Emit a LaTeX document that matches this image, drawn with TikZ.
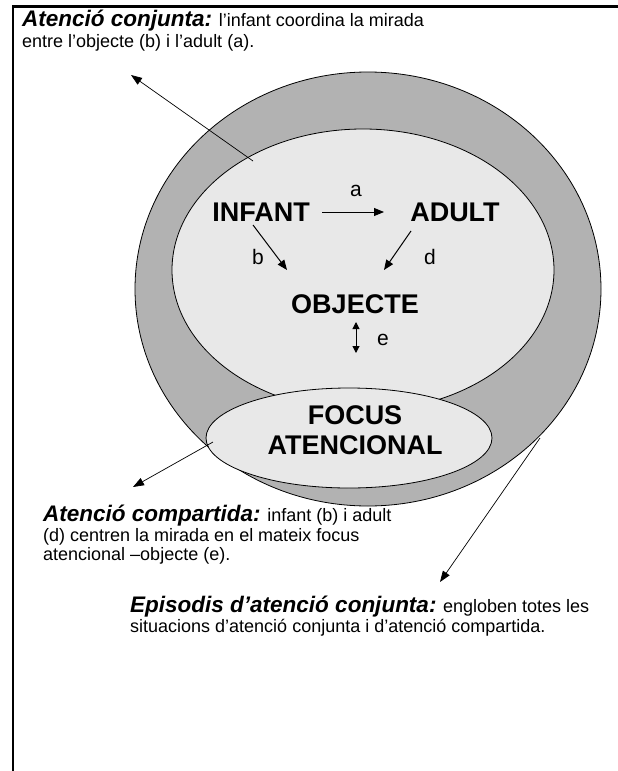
\documentclass[tikz,border=0pt]{standalone}
\usepackage{fontspec}
\setmainfont{Liberation Sans}
\usetikzlibrary{arrows.meta}

\definecolor{ringgray}{RGB}{178,178,178}
\definecolor{coregray}{RGB}{232,232,232}

% bold italic lead-in of each note
\newcommand{\notehead}[1]{{\fontsize{22.5}{24}\selectfont\bfseries\itshape #1}}

\tikzset{
  zone/.style={draw=black, line width=0.8pt},
  concept/.style={font=\fontsize{27}{30}\selectfont\bfseries, inner sep=0pt},
  lbl/.style={font=\fontsize{21}{22}\selectfont, inner sep=0pt},
  rel/.style={-{Triangle[length=10pt,width=8pt]}, line width=1pt},
  pointer/.style={-{Triangle[length=11pt,width=8pt]}, line width=0.7pt},
  note/.style={anchor=base west, inner sep=0pt, font=\fontsize{18}{20}\selectfont},
}

\begin{document}
\begin{tikzpicture}[x=1pt,y=-1pt]
  \useasboundingbox (0,0) rectangle (618,771);

  % page frame (top and left edges)
  \draw[line width=2.4pt] (13,771) -- (13,6.5) -- (618,6.5);

  % nested zones
  \draw[zone, fill=ringgray] (368,289) ellipse [x radius=233, y radius=217];
  \draw[zone, fill=coregray] (363,270) ellipse [x radius=191, y radius=141];
  \draw[zone, fill=coregray] (349,438) ellipse [x radius=143, y radius=50];

  % concepts
  \node[concept] (infant) at (261,212) {INFANT};
  \node[concept] (adult)  at (455,212) {ADULT};
  \node[concept] (objecte) at (355,304) {OBJECTE};
  \node[concept, align=center, font=\fontsize{27}{30}\selectfont\bfseries] (focus) at (355,430) {FOCUS\\ATENCIONAL};

  % gaze relations
  \coordinate (a1) at (322,212);
  \coordinate (a2) at (384,212);
  \draw[rel] (a1) -- (a2);
  \node[lbl] (la) at (356,191) {a};

  \coordinate (b1) at (253,225);
  \coordinate (b2) at (287,270);
  \draw[rel] (b1) -- (b2);
  \node[lbl] (lb) at (258,257) {b};

  \coordinate (d1) at (411,231);
  \coordinate (d2) at (384,270);
  \draw[rel] (d1) -- (d2);
  \node[lbl] (ld) at (430,257) {d};

  \coordinate (e1) at (356,322);
  \coordinate (e2) at (356,353);
  \draw[{Triangle[length=7pt,width=7pt]}-{Triangle[length=7pt,width=7pt]}, line width=1pt] (e1) -- (e2);
  \node[lbl] (le) at (383,340) {e};

  % callout pointers
  \coordinate (p1s) at (253,161);
  \coordinate (p1e) at (131,75);
  \draw[pointer] (p1s) -- (p1e);

  \coordinate (p2s) at (213,442);
  \coordinate (p2e) at (133,487);
  \draw[pointer] (p2s) -- (p2e);

  \coordinate (p3s) at (540,438);
  \coordinate (p3e) at (440,582);
  \draw[pointer] (p3s) -- (p3e);

  % explanatory notes
  \node[note] (t1a) at (22,27) {\notehead{Atenció conjunta:} l’infant coordina la mirada};
  \node[note] (t1b) at (22,47) {entre l’objecte (b) i l’adult (a).};

  \node[note] (t2a) at (43,521) {\notehead{Atenció compartida:} infant (b) i adult};
  \node[note] (t2b) at (43,541) {(d) centren la mirada en el mateix focus};
  \node[note] (t2c) at (43,560) {atencional –objecte (e).};

  \node[note] (t3a) at (130,612) {\notehead{Episodis d’atenció conjunta:} engloben totes les};
  \node[note] (t3b) at (130,632) {situacions d’atenció conjunta i d’atenció compartida.};
\end{tikzpicture}
\end{document}
